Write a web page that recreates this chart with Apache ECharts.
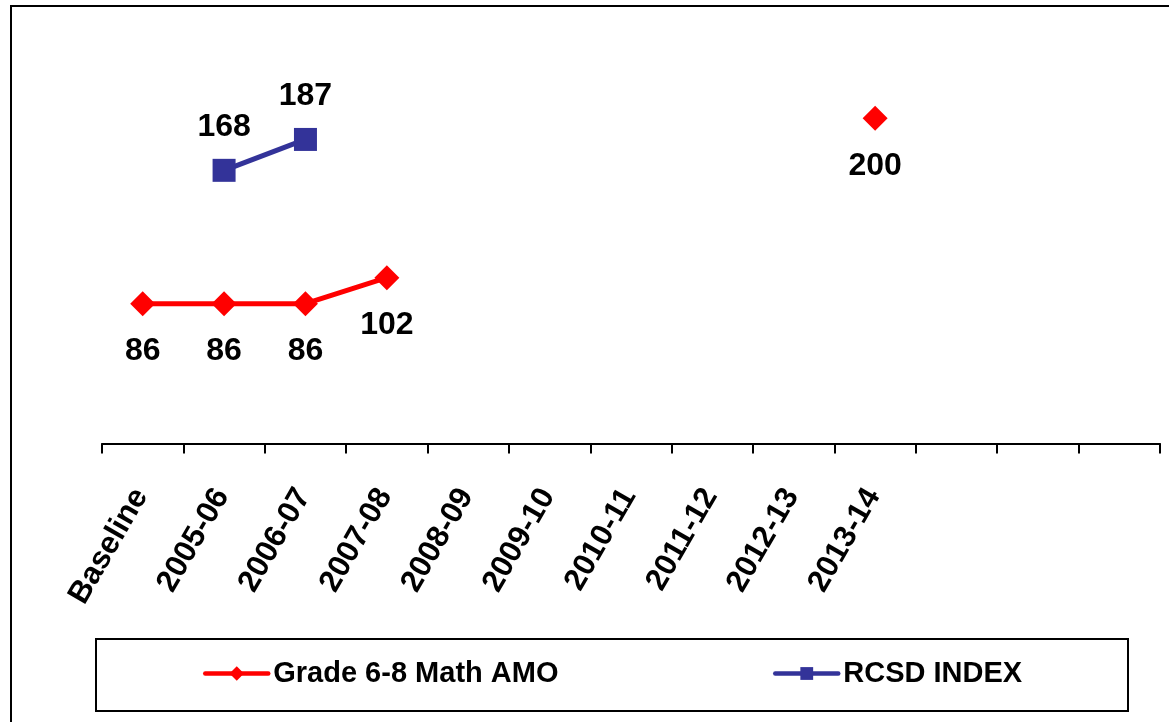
<!DOCTYPE html>
<html>
<head>
<meta charset="utf-8">
<script src="https://cdn.jsdelivr.net/npm/echarts@6/dist/echarts.min.js"></script>
<style>
html,body{margin:0;padding:0;background:#fff;}
#chart{width:1169px;height:722px;}
</style>
</head>
<body>
<div id="chart"></div>
<script>
const categories = ['Baseline','2005-06','2006-07','2007-08','2008-09','2009-10','2010-11','2011-12','2012-13','2013-14','','',''];
const amoValues = [86, 86, 86, 102, null, null, null, null, null, 200, null, null, null];
const rcsdValues = [null, 168, 187, null, null, null, null, null, null, null, null, null, null];
const seriesNames = ['Grade 6-8 Math AMO', 'RCSD INDEX'];

const FONT = '"Liberation Sans", Arial, sans-serif';
const chart = echarts.init(document.getElementById('chart'), null, {renderer: 'canvas'});

chart.setOption({
  backgroundColor: '#ffffff',
  animation: false,
  graphic: [
    {type: 'rect', shape: {x: 11, y: 6, width: 1250, height: 800},
     style: {fill: 'none', stroke: '#000', lineWidth: 2}, z: 0, silent: true},
    {type: 'rect', shape: {x: 96, y: 639, width: 1032, height: 72},
     style: {fill: 'none', stroke: '#000', lineWidth: 2}, z: 0, silent: true}
  ],
  grid: {left: 102, right: 9, top: 37, bottom: 278.5, containLabel: false},
  xAxis: {
    type: 'category',
    data: categories,
    boundaryGap: true,
    axisLine: {show: true, lineStyle: {color: '#000', width: 2}},
    axisTick: {show: true, length: 10, interval: 0, alignWithLabel: false, lineStyle: {color: '#000', width: 2}},
    axisLabel: {interval: 0, rotate: 60, margin: 44, padding: [0, 4, 14, 0], color: '#000', fontFamily: FONT, fontWeight: 'bold', fontSize: 31}
  },
  yAxis: {
    type: 'value', min: 0, max: 250, show: false, splitLine: {show: false}
  },
  legend: [
    {data: [seriesNames[0]], left: 203, top: 659, padding: 0, itemWidth: 63, itemHeight: 18, itemGap: 7,
     lineStyle: {width: 4.5, cap: 'round'},
     textStyle: {fontFamily: FONT, fontWeight: 'bold', fontSize: 29, color: '#000'}},
    {data: [seriesNames[1]], left: 773, top: 659, padding: 0, itemWidth: 63, itemHeight: 16, itemGap: 7,
     lineStyle: {width: 4.5, cap: 'round'},
     textStyle: {fontFamily: FONT, fontWeight: 'bold', fontSize: 29, color: '#000'}}
  ],
  series: [
    {
      name: seriesNames[0], type: 'line', data: amoValues, connectNulls: false,
      symbol: 'diamond', symbolSize: 25, showAllSymbol: true,
      lineStyle: {color: '#ff0000', width: 5},
      itemStyle: {color: '#ff0000'},
      label: {show: true, position: 'bottom', distance: 19, color: '#000', fontFamily: FONT, fontWeight: 'bold', fontSize: 32}
    },
    {
      name: seriesNames[1], type: 'line', data: rcsdValues, connectNulls: false,
      symbol: 'rect', symbolSize: 23, showAllSymbol: true,
      lineStyle: {color: '#333399', width: 5},
      itemStyle: {color: '#333399'},
      label: {show: true, position: 'top', distance: 16, color: '#000', fontFamily: FONT, fontWeight: 'bold', fontSize: 32}
    }
  ]
});
</script>
</body>
</html>
